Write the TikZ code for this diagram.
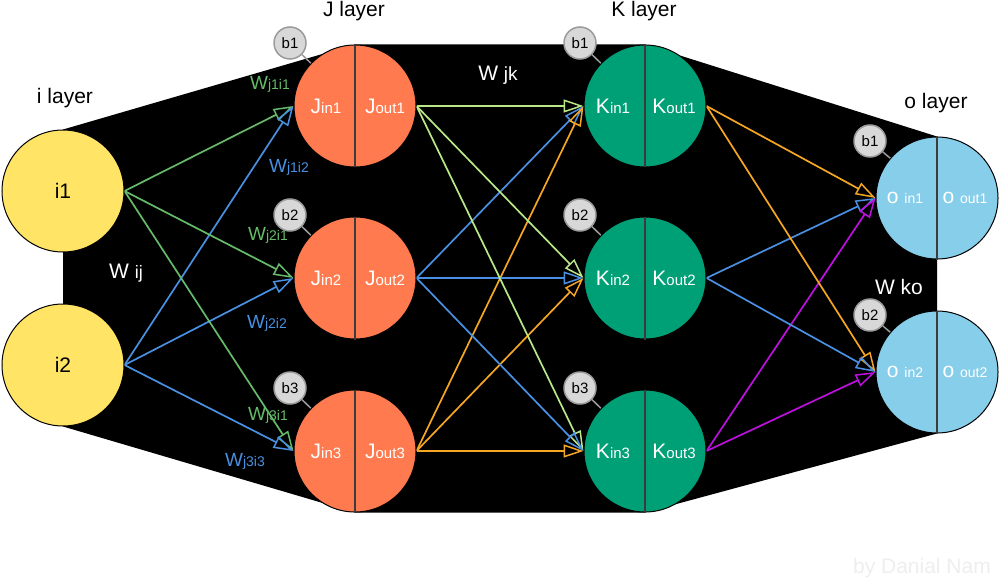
\documentclass[tikz,border=0pt]{standalone}
\usepackage{fontspec}
\setmainfont{Liberation Sans}
\usetikzlibrary{arrows.meta,backgrounds}
\definecolor{iyellow}{HTML}{FFE465}
\definecolor{jorange}{HTML}{FF7B4F}
\definecolor{kgreen}{HTML}{00A077}
\definecolor{oblue}{HTML}{87CEEB}
\definecolor{wgreen}{HTML}{66BB6A}
\definecolor{wblue}{HTML}{4A90E2}
\definecolor{wlime}{HTML}{B8E986}
\definecolor{worange}{HTML}{F5A623}
\definecolor{wpurple}{HTML}{BD10E0}
\definecolor{biasfill}{HTML}{D8D8D8}
\definecolor{biasedge}{HTML}{9B9B9B}
\definecolor{divgray}{HTML}{3C3C3C}
\definecolor{signgray}{HTML}{EEEEEE}
\newcommand{\twosize}[3][14]{{\fontsize{21}{24}\selectfont #2}{\fontsize{#1}{16}\selectfont #3}}
\newcommand{\wlbl}[1]{{\fontsize{19}{22}\selectfont W}{\fontsize{14}{16}\selectfont #1}}
\tikzset{font=\fontsize{21}{24}\selectfont}
\tikzset{
  neuron/.style={circle, draw=black, line width=1pt, minimum size=122pt, inner sep=0pt},
  bias/.style={circle, draw=biasedge, fill=biasfill, line width=1.5pt, minimum size=32pt,
    inner sep=0pt, font=\fontsize{15}{16}\selectfont},
  biaslink/.style={draw=biasedge, line width=1.5pt},
  divider/.style={draw=divgray, line width=1.5pt},
  wire/.style={line width=1.7pt, -{Triangle[open,length=20pt,width=13pt,line width=1.5pt]}},
  inner/.style={text=white}
}

\begin{document}
\begin{tikzpicture}[x=1pt,y=-1pt]
  \useasboundingbox (0,0) rectangle (1000,580);

  % input layer
  \node[neuron, fill=iyellow] (i1) at (63,191) {i1};
  \node[neuron, fill=iyellow] (i2) at (63,365) {i2};

  % J and K layers
  \foreach \n/\y in {1/106, 2/278, 3/451}{
    \node[neuron, fill=jorange] (J\n) at (355,\y) {};
    \draw[divider] (J\n.north) -- (J\n.south);
    \node[inner] (Jin\n) at (326,\y) {\twosize[15]{J}{in\n}};
    \node[inner] (Jout\n) at (385,\y) {\twosize[15]{J}{out\n}};
    \node[bias] (bJ\n) at (290,\y-63) {b\n};
    \draw[biaslink] (bJ\n) -- (J\n);

    \node[neuron, fill=kgreen] (K\n) at (645,\y) {};
    \draw[divider] (K\n.north) -- (K\n.south);
    \node[inner] (Kin\n) at (613,\y) {\twosize[15]{K}{in\n}};
    \node[inner] (Kout\n) at (674,\y) {\twosize[15]{K}{out\n}};
    \node[bias] (bK\n) at (580,\y-63) {b\n};
    \draw[biaslink] (bK\n) -- (K\n);
  }

  % output layer
  \foreach \n/\y in {1/198, 2/372}{
    \node[neuron, fill=oblue] (o\n) at (937,\y) {};
    \draw[divider] (o\n.north) -- (o\n.south);
    \node[inner] (oin\n) at (905,\y) {\twosize{o\ }{in\n}};
    \node[inner] (oout\n) at (965,\y) {\twosize{o\ }{out\n}};
    \node[bias] (bo\n) at (870,\y-57) {b\n};
    \draw[biaslink] (bo\n) -- (o\n);
  }

  \begin{scope}[on background layer]
    \fill[black] (i1.north) -- (J1.north) -- (K1.north) -- (o1.north)
      -- (o2.south) -- (K3.south) -- (J3.south) -- (i2.south) -- cycle;
    \foreach \t in {1,2,3}{
      \draw[wire, wgreen] (i1.east) -- (J\t.west);
      \draw[wire, wblue] (i2.east) -- (J\t.west);
      \draw[wire, wlime] (J1.east) -- (K\t.west);
      \draw[wire, wblue] (J2.east) -- (K\t.west);
      \draw[wire, worange] (J3.east) -- (K\t.west);
    }
    \foreach \t in {1,2}{
      \draw[wire, worange] (K1.east) -- (o\t.west);
      \draw[wire, wblue] (K2.east) -- (o\t.west);
      \draw[wire, wpurple] (K3.east) -- (o\t.west);
    }
  \end{scope}

  % layer titles
  \node (ititle) at (65,98) {i layer};
  \node (Jtitle) at (354,11) {J layer};
  \node (Ktitle) at (644,11) {K layer};
  \node (otitle) at (936,103) {o layer};

  % weights
  \node[inner] (Wij) at (126,273) {\twosize[18]{W\ }{ij}};
  \node[inner] (Wjk) at (498,75) {\twosize[19]{W\ }{jk}};
  \node[inner] (Wko) at (899,287) {\twosize[21]{W\ }{ko}};
  \node[text=wgreen] (w11) at (270,84) {\wlbl{j1i1}};
  \node[text=wgreen] (w21) at (268,235) {\wlbl{j2i1}};
  \node[text=wgreen] (w31) at (268,415) {\wlbl{j3i1}};
  \node[text=wblue] (w12) at (289,167) {\wlbl{j1i2}};
  \node[text=wblue] (w22) at (267,323) {\wlbl{j2i2}};
  \node[text=wblue] (w33) at (245,461) {\wlbl{j3i3}};

  \node[text=signgray] (sign) at (922,568) {by Danial Nam};
\end{tikzpicture}
\end{document}
